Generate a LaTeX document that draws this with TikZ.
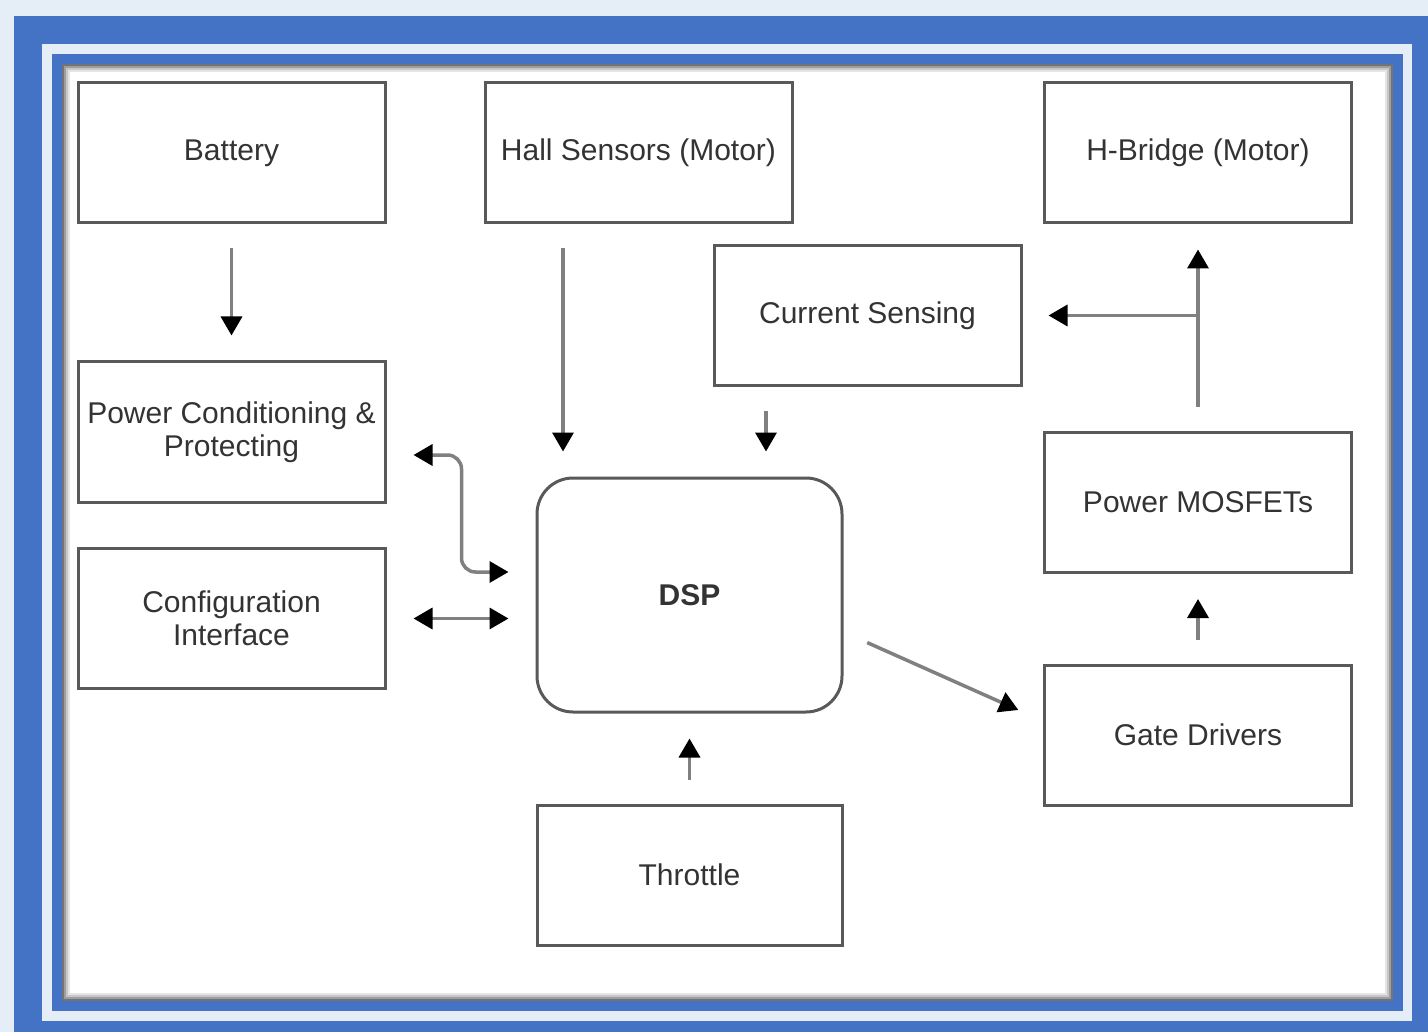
\documentclass[tikz,border=0pt]{standalone}
\usepackage{fontspec}
\setmainfont{Liberation Sans}
\usetikzlibrary{positioning,arrows.meta,calc}
\definecolor{FrameBlue}{RGB}{68, 114, 196}
\definecolor{PaleBlue}{RGB}{229, 237, 247}

\begin{document}
\begin{tikzpicture}[x=1pt, y=-1pt,
    block/.style={rectangle, draw=black!65, line width=3pt, fill=white, minimum width=307pt, minimum height=140pt, align=center, text=black!80, font=\fontsize{30}{33}\selectfont},
    arrow/.style={-{Triangle[length=19pt,width=21pt,color=black]}, line width=3.5pt, black!50, shorten <=24pt, shorten >=25pt},
    twoway/.style={{Triangle[length=19pt,width=21pt,color=black]}-{Triangle[length=19pt,width=21pt,color=black]}, line width=3.5pt, black!50, shorten <=27pt, shorten >=27pt}
]
    \useasboundingbox (0,0) rectangle (1428,1032);

    % Frame
    \fill[PaleBlue] (0,0) rectangle (1428,1032);
    \fill[FrameBlue] (14,16) rectangle (1428,1032);
    \fill[PaleBlue] (42,44) rectangle (1412,1021);
    \fill[FrameBlue] (52,54) rectangle (1403,1011);
    \fill[white] (62,64) rectangle (1393,1001);
    \foreach \i/\c in {1/55,3/38,5/22,7/10}
        \draw[black!\c, line width=2pt] ({62+\i},{64+\i}) rectangle ({1393-\i},{1001-\i});

    % Top row
    \node[block] (battery) at (231.5, 153) {Battery};
    \node[block] (hall) at (638.5, 153) {Hall Sensors (Motor)};
    \node[block] (hbridge) at (1198, 153) {H-Bridge (Motor)};
    \node[block] (current) at (867.5, 315.5) {Current Sensing};

    % Left column
    \node[block] (power) at (231.5, 432) {Power Conditioning \&\\Protecting};
    \node[block] (config) at (231.5, 618.5) {Configuration\\Interface};

    % Centre
    \node[block, minimum width=305pt, minimum height=234pt, rounded corners=36pt, font=\fontsize{30}{33}\selectfont\bfseries] (dsp) at (689.5, 595) {DSP};
    \node[block, minimum width=305pt] (throttle) at (689.5, 875) {Throttle};

    % Right column
    \node[block] (mosfets) at (1198, 502.5) {Power MOSFETs};
    \node[block] (gate) at (1198, 735) {Gate Drivers};

    % Arrows
    \draw[arrow] (battery) -- (power);
    \draw[arrow] ([xshift=-75.5pt]hall.south) -- ([xshift=-126.5pt]dsp.north);
    \draw[arrow] ([xshift=-101.5pt]current.south) -- ([xshift=76.5pt]dsp.north);
    \draw[twoway, rounded corners=14pt] ([yshift=-23pt]power.east) -- ++(75,0) |- ([yshift=23pt]dsp.west);
    \draw[twoway] (config.east) -- (config.east -| dsp.west);
    \draw[arrow, shorten <=26pt, shorten >=27pt] ([yshift=-37pt]dsp.east) -- ([yshift=14pt]gate.west);
    \draw[arrow] (throttle) -- (dsp);
    \draw[arrow] (gate) -- (mosfets);
    \draw[arrow] (mosfets) -- (hbridge);
    \coordinate (tap) at (mosfets.north |- current.east);
    \draw[arrow, shorten <=0pt, shorten >=26pt] (tap) -- (current.east);
\end{tikzpicture}
\end{document}
